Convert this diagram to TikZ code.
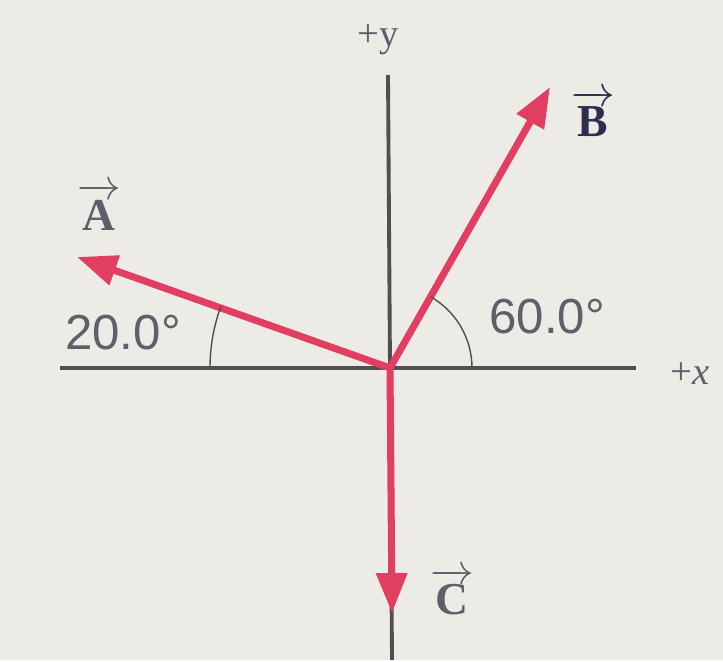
\documentclass[tikz,border=0pt]{standalone}
\usepackage{fontspec}
\usepackage{amsmath}
\usepackage{tikz}
\usetikzlibrary{arrows.meta}
\newfontfamily\degfont{Liberation Sans}
\newfontfamily\vecfont{Liberation Serif}
\definecolor{paper}{RGB}{236,235,229}
\definecolor{vecred}{RGB}{226,62,98}
\definecolor{axisgray}{RGB}{80,80,82}
\definecolor{labgray}{RGB}{95,95,105}
\definecolor{labnavy}{RGB}{45,45,80}
\tikzset{
  axisline/.style={axisgray, line width=2.2pt},
  vecline/.style={vecred, line width=4pt, -{Triangle[length=0.8cm,width=0.6cm]}},
  anglearc/.style={axisgray, line width=0.8pt},
  veclabel/.style={font=\fontsize{26}{30}\selectfont\vecfont\bfseries},
  anglelabel/.style={labgray, font=\fontsize{28}{32}\selectfont\degfont},
  axislabel/.style={labgray, font=\fontsize{22}{26}\selectfont\vecfont}
}

\begin{document}
\begin{tikzpicture}[x=0.02cm, y=-0.02cm]
  \fill[paper] (0,0) rectangle (723,660);
  % axes
  \coordinate (O) at (390,368);
  \coordinate (xl) at (60,368);
  \coordinate (xr) at (636,368);
  \coordinate (yt) at (388,75);
  \coordinate (yb) at (392,660);
  \draw[axisline] (xl) -- (xr);
  \draw[axisline] (yt) -- (yb);
  \node[axislabel] (ylab) at (378,40) {+y};
  \node[axislabel] (xlab) at (690,374) {+\textit{x}};
  % vectors
  \coordinate (tipA) at (77,257);
  \coordinate (tipB) at (550,87);
  \coordinate (tipC) at (392,613);
  \draw[vecline] (O) -- (tipA);
  \draw[vecline] (O) -- (tipB);
  \draw[vecline] (O) -- (tipC);
  \node[veclabel, labgray] (labA) at (99,207) {$\overrightarrow{\text{A}}$};
  \node[veclabel, labnavy] (labB) at (593,114) {$\overrightarrow{\text{B}}$};
  \node[veclabel, labgray] (labC) at (452,592) {$\overrightarrow{\text{C}}$};
  % angles
  \draw[anglearc] (O) ++(-180,0) arc[start angle=180, end angle=200, radius=180];
  \draw[anglearc] (O) ++(82,0) arc[start angle=0, end angle=-60, radius=82];
  \node[anglelabel] (angA) at (123,333) {20.0°};
  \node[anglelabel] (angB) at (547,317) {60.0°};
\end{tikzpicture}
\end{document}
